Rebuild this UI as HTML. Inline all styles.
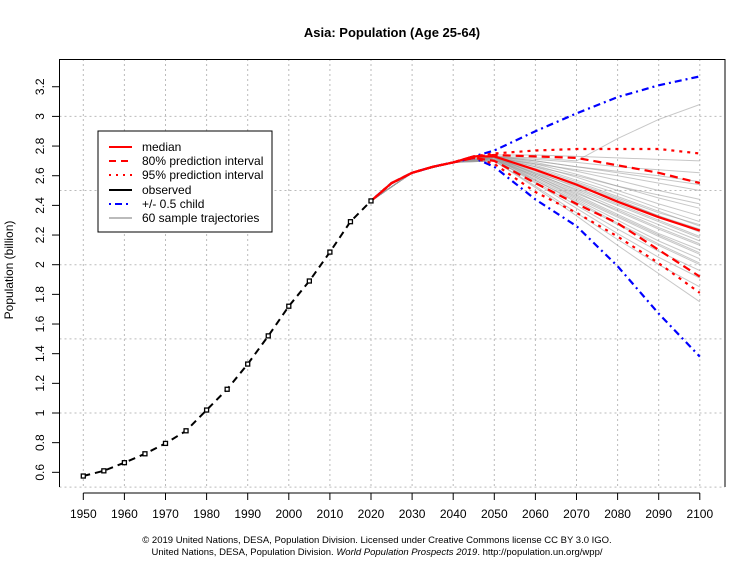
<!DOCTYPE html>
<html><head><meta charset="utf-8"><style>
body{margin:0;background:#fff;}
svg{display:block;font-family:"Liberation Sans",Arial,sans-serif;}
</style></head><body>
<svg id="chart" width="755" height="566" viewBox="0 0 755 566">
<text x="392" y="37" text-anchor="middle" font-size="13" font-weight="bold">Asia: Population (Age 25-64)</text>
<g id="grid"></g>
<g id="traj"></g>
<g id="series"></g>
<g id="axes"></g>
<text transform="translate(13,270) rotate(-90)" text-anchor="middle" font-size="12">Population (billion)</text>
<g>
<rect x="98" y="131" width="174" height="101" fill="#fff" stroke="#000"/>
<line x1="109" y1="147" x2="132" y2="147" stroke="red" stroke-width="2"/>
<text x="142" y="151" font-size="12">median</text>
<line x1="109" y1="161" x2="132" y2="161" stroke="red" stroke-width="2" stroke-dasharray="7,5"/>
<text x="142" y="165" font-size="12">80% prediction interval</text>
<line x1="109" y1="175" x2="132" y2="175" stroke="red" stroke-width="2" stroke-dasharray="2,5"/>
<text x="142" y="179" font-size="12">95% prediction interval</text>
<line x1="109" y1="190" x2="132" y2="190" stroke="#000" stroke-width="2"/>
<text x="142" y="194" font-size="12">observed</text>
<line x1="109" y1="204" x2="132" y2="204" stroke="blue" stroke-width="2" stroke-dasharray="2,4,7,4"/>
<text x="142" y="208" font-size="12">+/- 0.5 child</text>
<line x1="109" y1="218" x2="132" y2="218" stroke="#bbb" stroke-width="2"/>
<text x="142" y="222" font-size="12">60 sample trajectories</text>
</g>
<text x="377" y="543" text-anchor="middle" font-size="9.5">© 2019 United Nations, DESA, Population Division. Licensed under Creative Commons license CC BY 3.0 IGO.</text>
<text x="377" y="555" text-anchor="middle" font-size="9.5">United Nations, DESA, Population Division. <tspan font-style="italic">World Population Prospects 2019</tspan>. http://population.un.org/wpp/</text>
</svg>
<script>
const obsYears=[1950,1955,1960,1965,1970,1975,1980,1985,1990,1995,2000,2005,2010,2015,2020];
const obsVals=[0.575,0.61,0.665,0.725,0.795,0.88,1.02,1.16,1.33,1.52,1.72,1.89,2.085,2.29,2.43];
const projYears=[2020,2025,2030,2035,2040,2045,2050,2060,2070,2080,2090,2100];
const median=[2.43,2.55,2.62,2.66,2.69,2.73,2.73,2.64,2.54,2.425,2.32,2.23];
const pi80Up=[2.43,2.55,2.62,2.66,2.69,2.73,2.74,2.73,2.72,2.67,2.62,2.55];
const pi80Lo=[2.43,2.55,2.62,2.66,2.69,2.72,2.70,2.55,2.41,2.28,2.10,1.92];
const pi95Up=[2.43,2.55,2.62,2.66,2.69,2.73,2.75,2.77,2.78,2.78,2.78,2.75];
const pi95Lo=[2.43,2.55,2.62,2.66,2.69,2.72,2.68,2.49,2.35,2.19,2.01,1.81];
const childUp=[2.43,2.55,2.62,2.66,2.69,2.73,2.77,2.90,3.02,3.13,3.21,3.27];
const childLo=[2.43,2.55,2.62,2.66,2.69,2.72,2.66,2.44,2.26,1.99,1.67,1.38];
const trajYears=[2050,2060,2070,2080,2090,2100];
const trajVals=[
[2.73,2.72,2.70,2.85,2.98,3.08],[2.74,2.74,2.73,2.72,2.71,2.70],[2.73,2.71,2.69,2.66,2.64,2.62],
[2.73,2.70,2.66,2.62,2.58,2.54],[2.73,2.69,2.63,2.57,2.50,2.44],[2.72,2.68,2.61,2.53,2.45,2.38],
[2.73,2.67,2.59,2.50,2.41,2.33],[2.73,2.66,2.57,2.48,2.38,2.29],[2.72,2.65,2.56,2.46,2.36,2.26],
[2.73,2.64,2.54,2.44,2.33,2.22],[2.72,2.63,2.52,2.41,2.30,2.19],[2.72,2.62,2.50,2.38,2.27,2.16],
[2.73,2.61,2.49,2.36,2.24,2.13],[2.72,2.60,2.47,2.34,2.21,2.10],[2.72,2.59,2.45,2.32,2.19,2.07],
[2.71,2.58,2.44,2.30,2.16,2.04],[2.72,2.57,2.42,2.27,2.13,2.00],[2.71,2.56,2.40,2.24,2.09,1.96],
[2.71,2.55,2.38,2.21,2.05,1.91],[2.70,2.53,2.35,2.17,2.00,1.85],[2.70,2.52,2.33,2.13,1.94,1.75],
[2.72,2.66,2.60,2.53,2.47,2.41],[2.73,2.68,2.64,2.60,2.55,2.50],[2.72,2.62,2.53,2.43,2.33,2.24],
[2.71,2.60,2.48,2.37,2.25,2.14],[2.72,2.64,2.55,2.45,2.35,2.27],[2.71,2.59,2.46,2.33,2.20,2.08],
[2.70,2.57,2.43,2.28,2.14,2.01],[2.73,2.70,2.66,2.63,2.60,2.56],[2.72,2.61,2.51,2.40,2.29,2.18]
];
const xTicks=[1950,1960,1970,1980,1990,2000,2010,2020,2030,2040,2050,2060,2070,2080,2090,2100];
const yTicks=[0.6,0.8,1,1.2,1.4,1.6,1.8,2,2.2,2.4,2.6,2.8,3,3.2];
const yGrid=[0.5,1,1.5,2,2.5,3];

const NS="http://www.w3.org/2000/svg";
const X=v=>83.3+(v-1950)*41.1/10;
const Y=v=>413-(v-1)*148.3;
function mk(tag,attrs,parent){const e=document.createElementNS(NS,tag);for(const k in attrs)e.setAttribute(k,attrs[k]);parent.appendChild(e);return e;}
const grid=document.getElementById('grid'),axes=document.getElementById('axes'),ser=document.getElementById('series'),tr=document.getElementById('traj');
xTicks.forEach(t=>{
 const g=mk('line',{x1:X(t),x2:X(t),y1:59,y2:487,stroke:'#bbb','stroke-dasharray':'2,3'},grid);
 
 
 const tk=mk('line',{x1:X(t),x2:X(t),y1:493,y2:500,stroke:'#000'},axes);
 
 
 const l=mk('text',{x:X(t),y:518,'text-anchor':'middle','font-size':'12'},axes);l.textContent=t;
 
 
});
yGrid.forEach(v=>{
 const g=mk('line',{x1:59.5,x2:725,y1:Y(v),y2:Y(v),stroke:'#bbb','stroke-dasharray':'2,3'},grid);
 
 
});
yTicks.forEach(v=>{
 const tk=mk('line',{x1:52,x2:59.5,y1:Y(v),y2:Y(v),stroke:'#000'},axes);
 
 
 const l=mk('text',{x:0,y:0,'text-anchor':'middle','font-size':'12',transform:`translate(44,${Y(v)}) rotate(-90)`},axes);l.textContent=v;
 
 
});
const box=mk('path',{d:'M59.5,487 V59.5 H725 V487',fill:'none',stroke:'#000'},axes);


const xline=mk('line',{x1:83.3,x2:X(2100),y1:493,y2:493,stroke:'#000'},axes);


function pts(xs,ys){return xs.map((x,i)=>X(x).toFixed(1)+','+Y(ys[i]).toFixed(1)).join(' ');}
trajVals.forEach(v=>{
 const p=mk('polyline',{points:X(2020)+','+Y(2.43)+' '+X(2030)+','+Y(2.62)+' '+X(2040)+','+Y(2.69)+' '+pts(trajYears,v),fill:'none',stroke:'#999','stroke-opacity':'0.55','stroke-width':'1'},tr);
 
 
});
function line(ys,stroke,dash,name){
 const p=mk('polyline',{points:pts(projYears,ys),fill:'none',stroke:stroke,'stroke-width':'2.2','stroke-dasharray':dash},ser);
 
 
}
line(childUp,'blue','2,4,7,4','child-upper-line');
line(childLo,'blue','2,4,7,4','child-lower-line');
line(pi95Up,'red','3,5','pi95-upper-line');
line(pi95Lo,'red','3,5','pi95-lower-line');
line(pi80Up,'red','8,5','pi80-upper-line');
line(pi80Lo,'red','8,5','pi80-lower-line');
line(median,'red','','median-line');
const ob=mk('polyline',{points:pts(obsYears,obsVals),fill:'none',stroke:'#000','stroke-width':'2','stroke-dasharray':'7,5'},ser);


obsYears.forEach((y,i)=>{
 const r=mk('rect',{x:X(y)-2,y:Y(obsVals[i])-2,width:4,height:4,fill:'#fff',stroke:'#000','stroke-width':'1.3'},ser);
 
 
});
</script>
</body></html>
